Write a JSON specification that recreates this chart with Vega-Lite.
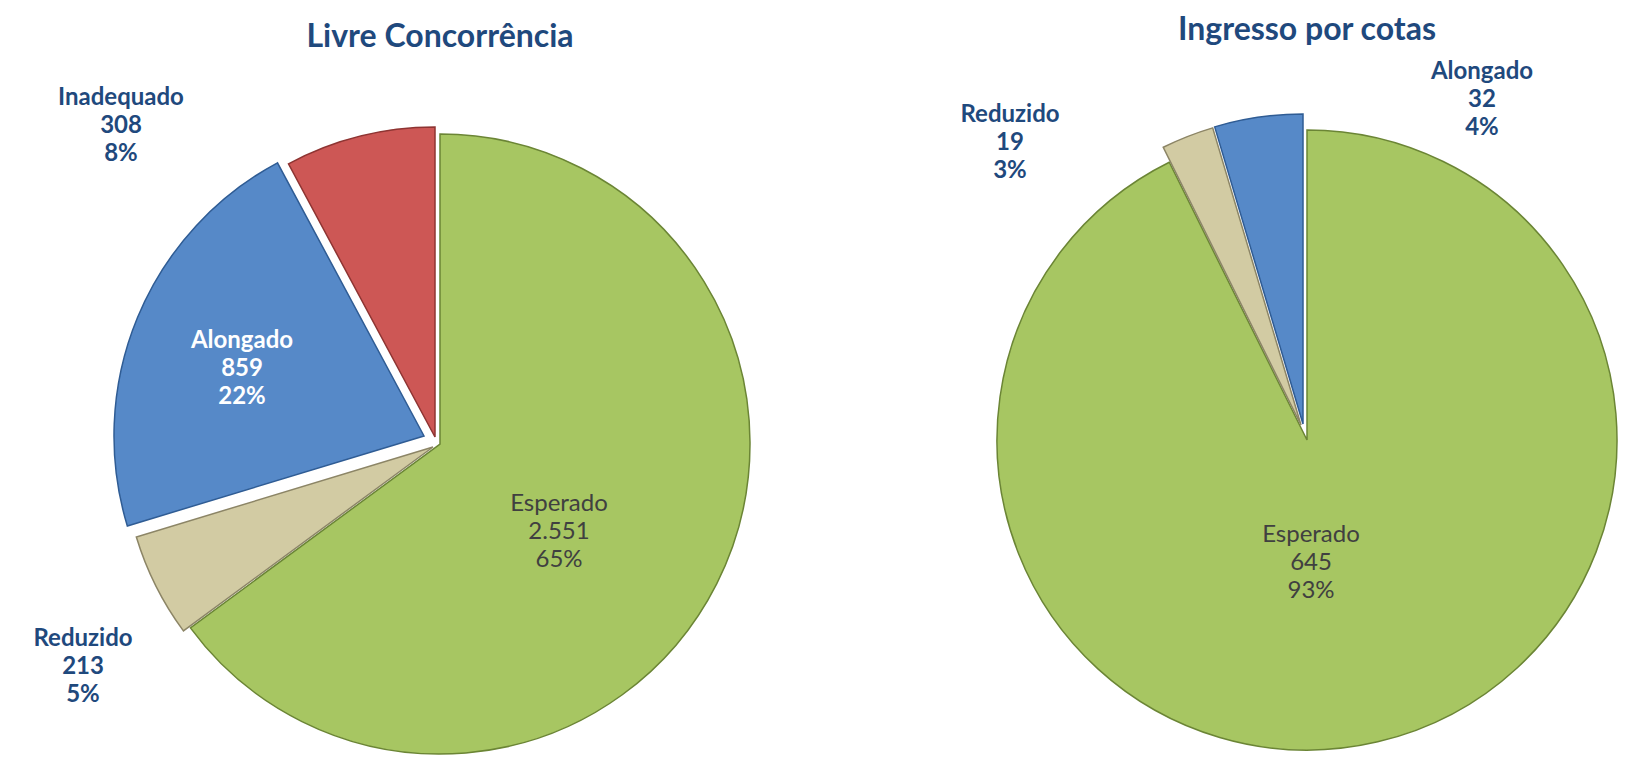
{
  "$schema": "https://vega.github.io/schema/vega-lite/v6.json",
  "background": "white",
  "padding": {"top": 14, "left": 0, "right": 0, "bottom": 0},
  "spacing": 84,
  "bounds": "flush",
  "config": {"view": {"stroke": null}, "font": "Lato"},
  "datasets": {
    "livre": [
      {"cat": "Esperado", "ord": 1, "value": 2551, "lines": ["Esperado", "2.551", "65%"]},
      {"cat": "Reduzido", "ord": 2, "value": 213, "lines": ["Reduzido", "213", "5%"]},
      {"cat": "Alongado", "ord": 3, "value": 859, "lines": ["Alongado", "859", "22%"]},
      {"cat": "Inadequado", "ord": 4, "value": 308, "lines": ["Inadequado", "308", "8%"]}
    ],
    "cotas": [
      {"cat": "Esperado", "ord": 1, "value": 645, "lines": ["Esperado", "645", "93%"]},
      {"cat": "Reduzido", "ord": 2, "value": 19, "lines": ["Reduzido", "19", "3%"]},
      {"cat": "Alongado", "ord": 3, "value": 32, "lines": ["Alongado", "32", "4%"]}
    ]
  },
  "resolve": {"scale": {"theta": "independent", "fill": "independent"}},
  "hconcat": [
    {
      "width": 880,
      "height": 680,
      "title": {"text": "Livre Concorrência", "font": "Lato", "fontSize": 32, "fontWeight": "bold", "color": "#1F497D", "anchor": "middle", "offset": 32},
      "data": {"name": "livre"},
      "layer": [
        {
          "mark": {"type": "arc", "radius": 310, "stroke": "#6B8535", "strokeWidth": 1.5},
          "encoding": {
            "theta": {"field": "value", "type": "quantitative", "stack": true, "scale": {"nice": false}},
            "order": {"field": "ord", "type": "quantitative"},
            "fill": {"field": "cat", "type": "nominal", "legend": null, "scale": {"domain": ["Esperado", "Reduzido", "Alongado", "Inadequado"], "range": ["#A7C662", "#D2CBA3", "#5689C8", "#CD5755"]}},
            "opacity": {"condition": {"test": "datum.cat === 'Esperado'", "value": 1}, "value": 0}
          }
        },
        {
          "mark": {"type": "arc", "radius": 310, "stroke": "#8C8566", "strokeWidth": 1.5, "xOffset": -7, "yOffset": 3},
          "encoding": {
            "theta": {"field": "value", "type": "quantitative", "stack": true, "scale": {"nice": false}},
            "order": {"field": "ord", "type": "quantitative"},
            "fill": {"field": "cat", "type": "nominal", "legend": null, "scale": {"domain": ["Esperado", "Reduzido", "Alongado", "Inadequado"], "range": ["#A7C662", "#D2CBA3", "#5689C8", "#CD5755"]}},
            "opacity": {"condition": {"test": "datum.cat === 'Reduzido'", "value": 1}, "value": 0}
          }
        },
        {
          "mark": {"type": "arc", "radius": 310, "stroke": "#2F5C94", "strokeWidth": 1.5, "xOffset": -16, "yOffset": -8},
          "encoding": {
            "theta": {"field": "value", "type": "quantitative", "stack": true, "scale": {"nice": false}},
            "order": {"field": "ord", "type": "quantitative"},
            "fill": {"field": "cat", "type": "nominal", "legend": null, "scale": {"domain": ["Esperado", "Reduzido", "Alongado", "Inadequado"], "range": ["#A7C662", "#D2CBA3", "#5689C8", "#CD5755"]}},
            "opacity": {"condition": {"test": "datum.cat === 'Alongado'", "value": 1}, "value": 0}
          }
        },
        {
          "mark": {"type": "arc", "radius": 310, "stroke": "#8E3432", "strokeWidth": 1.5, "xOffset": -5, "yOffset": -7},
          "encoding": {
            "theta": {"field": "value", "type": "quantitative", "stack": true, "scale": {"nice": false}},
            "order": {"field": "ord", "type": "quantitative"},
            "fill": {"field": "cat", "type": "nominal", "legend": null, "scale": {"domain": ["Esperado", "Reduzido", "Alongado", "Inadequado"], "range": ["#A7C662", "#D2CBA3", "#5689C8", "#CD5755"]}},
            "opacity": {"condition": {"test": "datum.cat === 'Inadequado'", "value": 1}, "value": 0}
          }
        },
        {
          "transform": [{"filter": "datum.cat === 'Esperado'"}],
          "mark": {"type": "text", "dx": 119, "dy": 60, "align": "center", "baseline": "middle", "font": "Lato", "fontSize": 24, "fontWeight": "normal", "fill": "#404040", "lineHeight": 28},
          "encoding": {"text": {"field": "lines", "type": "nominal"}}
        },
        {
          "transform": [{"filter": "datum.cat === 'Alongado'"}],
          "mark": {"type": "text", "dx": -198, "dy": -103, "align": "center", "baseline": "middle", "font": "Lato", "fontSize": 24, "fontWeight": "bold", "fill": "#FFFFFF", "lineHeight": 28},
          "encoding": {"text": {"field": "lines", "type": "nominal"}}
        },
        {
          "transform": [{"filter": "datum.cat === 'Inadequado'"}],
          "mark": {"type": "text", "dx": -319, "dy": -346, "align": "center", "baseline": "middle", "font": "Lato", "fontSize": 24, "fontWeight": "bold", "fill": "#1F497D", "lineHeight": 28},
          "encoding": {"text": {"field": "lines", "type": "nominal"}}
        },
        {
          "transform": [{"filter": "datum.cat === 'Reduzido'"}],
          "mark": {"type": "text", "dx": -357, "dy": 195, "align": "center", "baseline": "middle", "font": "Lato", "fontSize": 24, "fontWeight": "bold", "fill": "#1F497D", "lineHeight": 28},
          "encoding": {"text": {"field": "lines", "type": "nominal"}}
        }
      ]
    },
    {
      "width": 686,
      "height": 672,
      "title": {"text": "Ingresso por cotas", "font": "Lato", "fontSize": 32, "fontWeight": "bold", "color": "#1F497D", "anchor": "middle", "offset": 13},
      "data": {"name": "cotas"},
      "layer": [
        {
          "mark": {"type": "arc", "radius": 310, "stroke": "#6B8535", "strokeWidth": 1.5},
          "encoding": {
            "theta": {"field": "value", "type": "quantitative", "stack": true, "scale": {"nice": false}},
            "order": {"field": "ord", "type": "quantitative"},
            "fill": {"field": "cat", "type": "nominal", "legend": null, "scale": {"domain": ["Esperado", "Reduzido", "Alongado", "Inadequado"], "range": ["#A7C662", "#D2CBA3", "#5689C8", "#CD5755"]}},
            "opacity": {"condition": {"test": "datum.cat === 'Esperado'", "value": 1}, "value": 0}
          }
        },
        {
          "mark": {"type": "arc", "radius": 310, "stroke": "#8C8566", "strokeWidth": 1.5, "xOffset": -6, "yOffset": -15},
          "encoding": {
            "theta": {"field": "value", "type": "quantitative", "stack": true, "scale": {"nice": false}},
            "order": {"field": "ord", "type": "quantitative"},
            "fill": {"field": "cat", "type": "nominal", "legend": null, "scale": {"domain": ["Esperado", "Reduzido", "Alongado", "Inadequado"], "range": ["#A7C662", "#D2CBA3", "#5689C8", "#CD5755"]}},
            "opacity": {"condition": {"test": "datum.cat === 'Reduzido'", "value": 1}, "value": 0}
          }
        },
        {
          "mark": {"type": "arc", "radius": 310, "stroke": "#2F5C94", "strokeWidth": 1.5, "xOffset": -4, "yOffset": -16},
          "encoding": {
            "theta": {"field": "value", "type": "quantitative", "stack": true, "scale": {"nice": false}},
            "order": {"field": "ord", "type": "quantitative"},
            "fill": {"field": "cat", "type": "nominal", "legend": null, "scale": {"domain": ["Esperado", "Reduzido", "Alongado", "Inadequado"], "range": ["#A7C662", "#D2CBA3", "#5689C8", "#CD5755"]}},
            "opacity": {"condition": {"test": "datum.cat === 'Alongado'", "value": 1}, "value": 0}
          }
        },
        {
          "transform": [{"filter": "datum.cat === 'Esperado'"}],
          "mark": {"type": "text", "dx": 4, "dy": 95, "align": "center", "baseline": "middle", "font": "Lato", "fontSize": 24, "fontWeight": "normal", "fill": "#404040", "lineHeight": 28},
          "encoding": {"text": {"field": "lines", "type": "nominal"}}
        },
        {
          "transform": [{"filter": "datum.cat === 'Alongado'"}],
          "mark": {"type": "text", "dx": 175, "dy": -368, "align": "center", "baseline": "middle", "font": "Lato", "fontSize": 24, "fontWeight": "bold", "fill": "#1F497D", "lineHeight": 28},
          "encoding": {"text": {"field": "lines", "type": "nominal"}}
        },
        {
          "transform": [{"filter": "datum.cat === 'Reduzido'"}],
          "mark": {"type": "text", "dx": -297, "dy": -325, "align": "center", "baseline": "middle", "font": "Lato", "fontSize": 24, "fontWeight": "bold", "fill": "#1F497D", "lineHeight": 28},
          "encoding": {"text": {"field": "lines", "type": "nominal"}}
        }
      ]
    }
  ]
}
